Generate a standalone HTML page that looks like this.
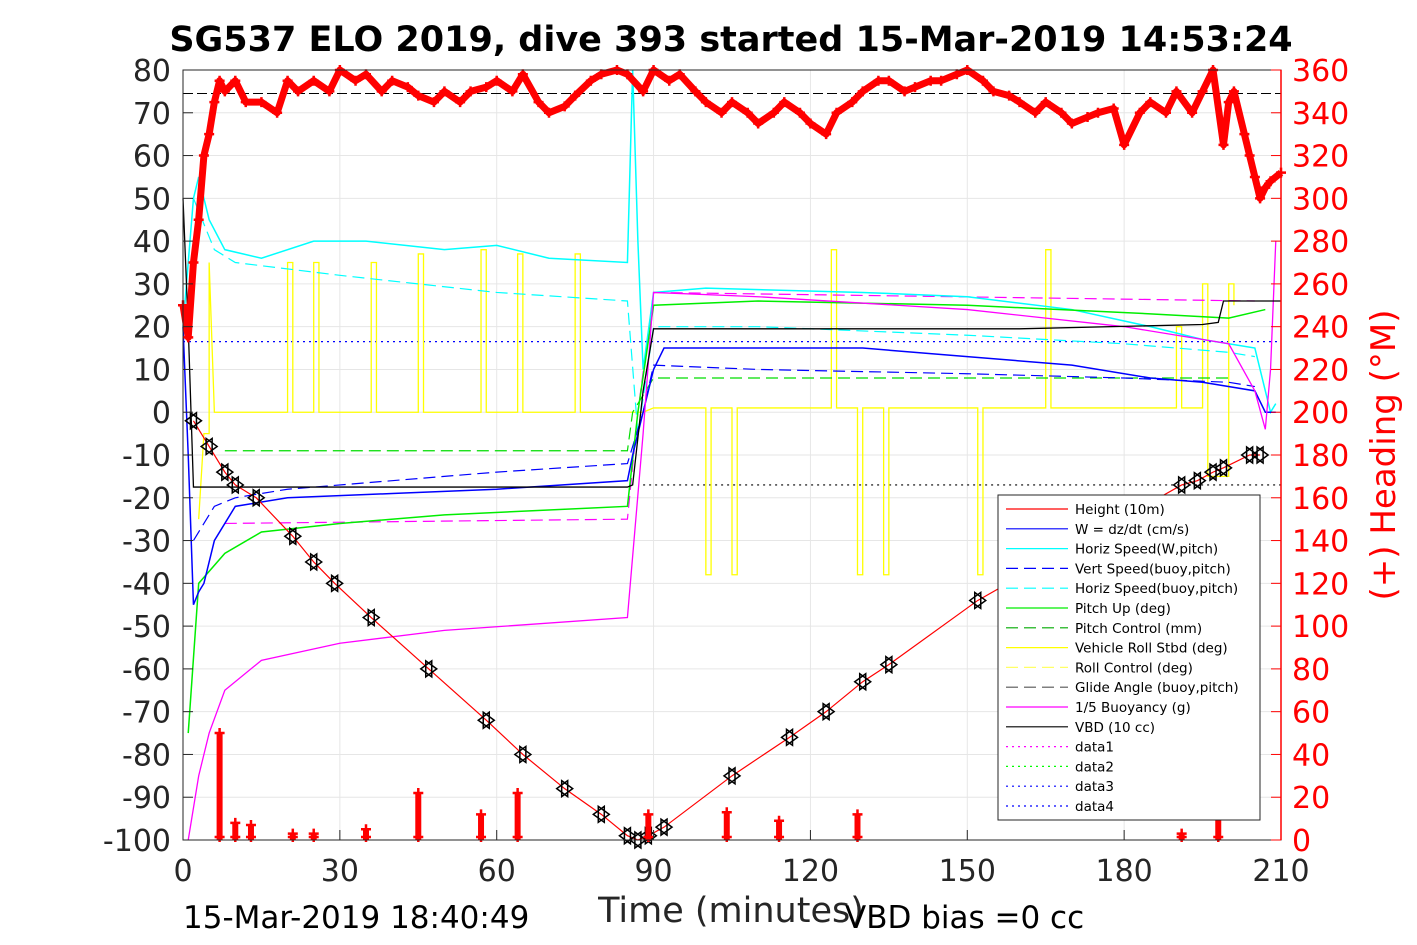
<!DOCTYPE html>
<html><head><meta charset="utf-8"><style>
body{margin:0;background:#fff;}
svg{display:block;font-family:"DejaVu Sans","Liberation Sans",sans-serif;}
</style></head><body>
<svg id="c" width="1417" height="945" xmlns="http://www.w3.org/2000/svg"></svg>
<script>
const xTicks=[0,30,60,90,120,150,180,210];
const yTicks=[80,70,60,50,40,30,20,10,0,-10,-20,-30,-40,-50,-60,-70,-80,-90,-100];
const rTicks=[360,340,320,300,280,260,240,220,200,180,160,140,120,100,80,60,40,20,0];
const heightT=[2,5,8,10,14,21,25,29,36,47,58,65,73,80,85,87,89,92,105,116,123,130,135,152,191,194,197,199,204,206];
const heightV=[-2,-8,-14,-17,-20,-29,-35,-40,-48,-60,-72,-80,-88,-94,-99,-100,-99,-97,-85,-76,-70,-63,-59,-44,-17,-16,-14,-13,-10,-10];
const wT=[0,1,2,3,4,6,10,20,40,60,85,86,88,90,92,110,130,150,170,185,195,205,207,209];
const wV=[20,-10,-45,-42,-40,-30,-22,-20,-19,-18,-16,-10,0,10,15,15,15,13,11,8,7,5,0,0];
const hsT=[0,2,3,5,8,15,25,35,50,60,70,85,86,87,88,90,100,130,150,170,185,195,205,208,209];
const hsV=[20,50,55,45,38,36,40,40,38,39,36,35,80,40,10,28,29,28,27,24,20,17,15,0,2];
const vsbT=[2,6,10,20,40,60,85,88,90,110,150,180,200,205];
const vsbV=[-30,-22,-20,-18,-16,-14,-12,0,11,10,9,8,7,6];
const hsbT=[2,6,10,30,60,85,87,90,110,150,180,200,205];
const hsbV=[50,38,35,32,28,26,-5,20,20,18,16,14,13];
const pitchT=[1,3,8,15,30,50,85,87,90,110,150,185,200,207];
const pitchV=[-75,-40,-33,-28,-26,-24,-22,0,25,26,25,23,22,24];
const pcT=[8,85,86,90,200];
const pcV=[-9,-9,0,8,8];
const glideT=[8,85,87,90,205];
const glideV=[-26,-25,0,28,26];
const rollT=[3,4,5,5,6,8,20,20,21,21,25,25,26,26,36,36,37,37,45,45,46,46,57,57,58,58,64,64,65,65,75,75,76,76,85,88,90,100,100,101,101,105,105,106,106,124,124,125,125,129,129,130,130,134,134,135,135,152,152,153,153,165,165,166,166,190,190,191,191,195,195,196,196,200,200,201,201,205];
const rollV=[-25,-5,-5,35,0,0,0,35,35,0,0,35,35,0,0,35,35,0,0,37,37,0,0,38,38,0,0,37,37,0,0,37,37,0,0,0,1,1,-38,-38,1,1,-38,-38,1,1,38,38,1,1,-38,-38,1,1,-38,-38,1,1,-38,-38,1,1,38,38,1,1,20,20,1,1,30,30,-15,-15,30,30,25];
const buoyT=[1,3,5,8,15,30,50,85,88,90,110,150,180,200,205,207,208,209];
const buoyV=[-100,-85,-75,-65,-58,-54,-51,-48,-5,28,27,24,20,16,5,-4,10,40];
const vbdT=[0,1,2,85,86,88,90,160,195,198,199,210];
const vbdV=[50,20,-17.5,-17.5,-17,5,19.5,19.5,20.5,21,26,26];
const headTopT=[0,1,2,3,4,5,6,7,8,10,12,15,18,20,22,25,28,30,33,35,38,40,43,45,48,50,53,55,58,60,63,65,68,70,73,75,78,80,83,85,88,90,93,95,98,100,103,105,108,110,113,115,118,120,123,125,128,130,133,135,138,140,143,145,148,150,153,155,158,160,163,165,168,170,173,175,178,180,183,185,188,190,193,195,197,199,200,201,203,204,205,206,207,208,210];
const headTopV=[250,235,270,290,320,330,345,355,350,355,345,345,340,355,350,355,350,360,355,358,350,355,352,348,345,350,345,350,352,355,350,358,345,340,343,348,355,358,360,358,350,360,355,358,350,345,340,345,340,335,340,345,340,335,330,340,345,350,355,355,350,352,355,355,358,360,355,350,348,345,340,345,340,335,338,340,342,325,340,345,340,350,340,350,360,325,345,350,330,320,310,300,305,308,312];
const spikeT=[7,10,13,21,25,35,45,57,64,89,104,114,129,191,198];
const spikeH=[50,8,7,3,3,5,22,12,22,12,13,9,12,3,10];

const S=document.getElementById('c');const NS='http://www.w3.org/2000/svg';
const X0=183,X1=1281,Y0=840,Y1=70;
const sx=t=>X0+(t/210)*(X1-X0);
const sy=v=>Y0-((v+100)/180)*(Y0-Y1);
const sr=h=>Y0-(h/360)*(Y0-Y1);
function el(tag,a,p){const e=document.createElementNS(NS,tag);for(const k in a)e.setAttribute(k,a[k]);(p||S).appendChild(e);return e;}
function txt(x,y,s,a){const e=el('text',Object.assign({x:x,y:y},a));e.textContent=s;return e;}
const g=el('g',{});
xTicks.forEach(t=>el('line',{x1:sx(t),x2:sx(t),y1:Y1,y2:Y0,stroke:'#e6e6e6','stroke-width':1},g));
yTicks.forEach(v=>el('line',{x1:X0,x2:X1,y1:sy(v),y2:sy(v),stroke:'#e6e6e6','stroke-width':1},g));
function line(T,V,st,name,fy){const p=el('polyline',Object.assign({points:T.map((t,i)=>sx(t)+','+(fy||sy)(V[i])).join(' '),fill:'none'},st));return p;}
line([0,210],[74.5,74.5],{stroke:'#000','stroke-width':1,'stroke-dasharray':'10,4'},'ref-line-top');
line([0,210],[16.5,16.5],{stroke:'#00f','stroke-width':1.2,'stroke-dasharray':'2,4'},'data4-line');
line([88,210],[-17,-17],{stroke:'#000','stroke-width':1.2,'stroke-dasharray':'2,4'},'data3-line');
line(rollT,rollV,{stroke:'#ffff00','stroke-width':1.3},'vehicle-roll-line');
line(pcT,pcV,{stroke:'#00dd00','stroke-width':1.2,'stroke-dasharray':'12,6'},'pitch-control-line');
line(glideT,glideV,{stroke:'#ff00ff','stroke-width':1.2,'stroke-dasharray':'12,6'},'glide-angle-line');
line(hsbT,hsbV,{stroke:'#00ffff','stroke-width':1.2,'stroke-dasharray':'12,6'},'horiz-speed-buoy-line');
line(vsbT,vsbV,{stroke:'#0000ff','stroke-width':1.2,'stroke-dasharray':'12,6'},'vert-speed-buoy-line');
line(hsT,hsV,{stroke:'#00ffff','stroke-width':1.5},'horiz-speed-w-line');
line(pitchT,pitchV,{stroke:'#00ee00','stroke-width':1.5},'pitch-up-line');
line(wT,wV,{stroke:'#0000ff','stroke-width':1.5},'w-line');
line(buoyT,buoyV,{stroke:'#ff00ff','stroke-width':1.3},'buoyancy-line');
line(vbdT,vbdV,{stroke:'#000','stroke-width':1.3},'vbd-line');
line(heightT,heightV,{stroke:'#ff0000','stroke-width':1.2},'height-line');
heightT.forEach((t,i)=>{const x=sx(t),y=sy(heightV[i]);
 const m=el('path',{d:`M${x-3},${y-8}L${x+8},${y}L${x-3},${y+8}Z M${x+3},${y-8}L${x-8},${y}L${x+3},${y+8}Z`,fill:'none',stroke:'#000','stroke-width':1.5});
 });
function plus(x,y){const m=el('path',{d:`M${x-5},${y}H${x+5}M${x},${y-5}V${y+5}`,stroke:'#ff0000','stroke-width':2.5});}
line(headTopT,headTopV,{stroke:'#ff0000','stroke-width':7,'stroke-linejoin':'round'},'heading-line',sr);
headTopT.forEach((t,i)=>plus(sx(t),sr(headTopV[i])));
spikeT.forEach((t,i)=>{const x=sx(t);const l=el('line',{x1:x,x2:x,y1:sr(0),y2:sr(spikeH[i]),stroke:'#ff0000','stroke-width':6});plus(x,sr(spikeH[i]));plus(x,sr(0)-3);});
const bx=el('rect',{x:X0,y:Y1,width:X1-X0,height:Y0-Y1,fill:'none',stroke:'#262626','stroke-width':1});

xTicks.forEach(t=>{el('line',{x1:sx(t),x2:sx(t),y1:Y0,y2:Y0-10,stroke:'#262626'});const e=txt(sx(t),881,String(t),{'font-size':30,'text-anchor':'middle',fill:'#262626'});});
yTicks.forEach(v=>{el('line',{x1:X0,x2:X0+10,y1:sy(v),y2:sy(v),stroke:'#262626'});const e=txt(171,sy(v)+11,String(v),{'font-size':30,'text-anchor':'end',fill:'#262626'});});
rTicks.forEach(h=>{el('line',{x1:X1,x2:X1-10,y1:sr(h),y2:sr(h),stroke:'#ff0000'});const e=txt(1292,sr(h)+11,String(h),{'font-size':30,fill:'#ff0000'});});
el('line',{x1:X1,x2:X1,y1:Y1,y2:Y0,stroke:'#ff0000','stroke-width':1.5});
let e;
e=txt(731,51,'SG537 ELO 2019, dive 393 started 15-Mar-2019 14:53:24',{'font-size':35,'font-weight':'bold','text-anchor':'middle'});
e=txt(731,922,'Time (minutes)',{'font-size':35,'text-anchor':'middle',fill:'#262626'});
e=txt(183,928,'15-Mar-2019 18:40:49',{'font-size':31});
e=txt(845,928,'VBD bias =0 cc',{'font-size':31});
e=txt(0,0,'(+) Heading (°M)',{'font-size':34,'text-anchor':'middle',fill:'#ff0000',transform:'translate(1395,455) rotate(-90)'});
const L=el('g',{});
el('rect',{x:998,y:495,width:262,height:325,fill:'#fff',stroke:'#262626'},L);
const items=[['Height (10m)','#ff0000',''],['W = dz/dt (cm/s)','#0000ff',''],['Horiz Speed(W,pitch)','#00ffff',''],['Vert Speed(buoy,pitch)','#0000ff','12,6'],['Horiz Speed(buoy,pitch)','#00ffff','12,6'],['Pitch Up (deg)','#00ee00',''],['Pitch Control (mm)','#00aa00','12,6'],['Vehicle Roll Stbd (deg)','#ffff00',''],['Roll Control (deg)','#ffff66','12,6'],['Glide Angle (buoy,pitch)','#555','12,6'],['1/5 Buoyancy (g)','#ff00ff',''],['VBD (10 cc)','#000',''],['data1','#ff00ff','2,4'],['data2','#00ff00','2,4'],['data3','#0000ff','2,4'],['data4','#0000ff','2,4']];
items.forEach((it,i)=>{const y=509+i*19.8;const gi=el('g',{},L);
 el('line',{x1:1006,x2:1068,y1:y,y2:y,stroke:it[1],'stroke-width':1.2,'stroke-dasharray':it[2]},gi);
 const t=txt(1075,y+5,it[0],{'font-size':13.5,fill:'#000'});gi.appendChild(t);});
</script>
</body></html>
